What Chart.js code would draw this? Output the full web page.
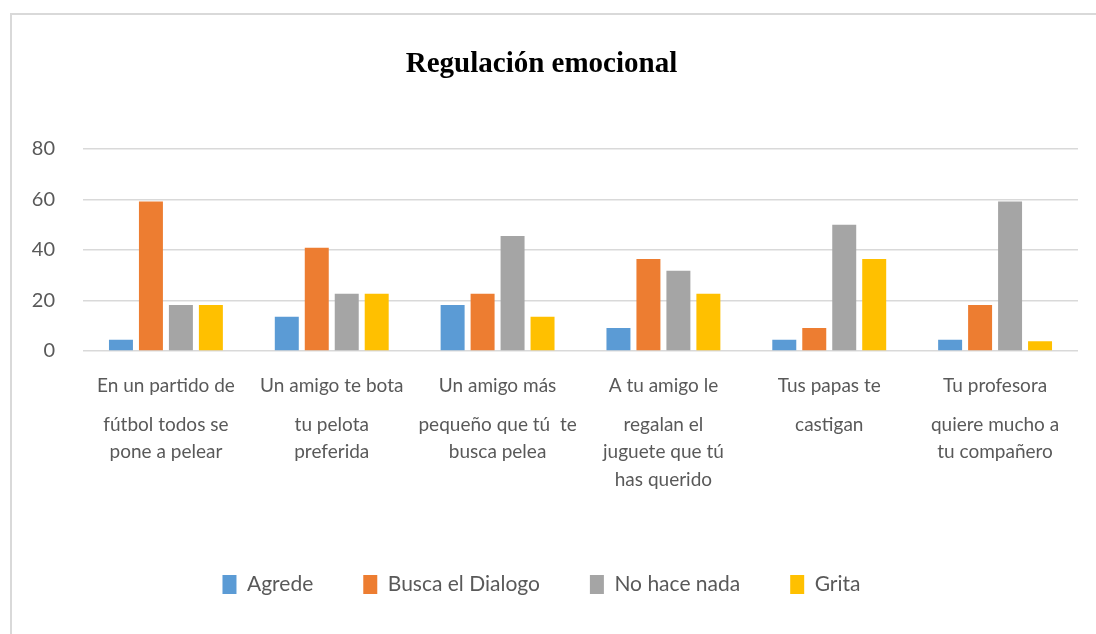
<!DOCTYPE html>
<html>
<head>
<meta charset="utf-8">
<script src="https://cdn.jsdelivr.net/npm/chart.js@4/dist/chart.umd.min.js"></script>
<style>
  html, body { margin: 0; padding: 0; background: #fff; }
  #frame { position: absolute; left: 10px; top: 13px; width: 1200px; height: 800px;
           border-left: 2px solid #d9d9d9; border-top: 2px solid #d9d9d9; }
  #wrap { position: absolute; left: 0; top: 0; width: 1096px; height: 634px; }
</style>
</head>
<body>
<div id="frame"></div>
<div id="wrap"><canvas id="c" width="1096" height="634"></canvas></div>
<script>
// ---- data ----
const titleText = "Regulación emocional";
const labelsRow1 = ["En un partido de", "Un amigo te bota", "Un amigo más", "A tu amigo le", "Tus papas te", "Tu profesora"];
const labelsRow2 = [
  ["fútbol todos se", "pone a pelear"],
  ["tu pelota", "preferida"],
  ["pequeño que tú  te", "busca pelea"],
  ["regalan el", "juguete que tú", "has querido"],
  ["castigan"],
  ["quiere mucho a", "tu compañero"]
];
const seriesNames = ["Agrede", "Busca el Dialogo", "No hace nada", "Grita"];
const agrede       = [4.5, 13.6, 18.2, 9.1, 4.5, 4.5];
const buscaDialogo = [59.1, 40.9, 22.7, 36.4, 9.1, 18.2];
const noHaceNada   = [18.2, 22.7, 45.5, 31.8, 50.0, 59.1];
const grita        = [18.2, 22.7, 13.6, 22.7, 36.4, 3.9];
const yTicks = [0, 20, 40, 60, 80];
const colors = ["#5b9bd5", "#ed7d31", "#a5a5a5", "#ffc000"];

const seriesValues = [agrede, buscaDialogo, noHaceNada, grita];
const textColor = "#595959";
const sans = "Lato, 'Open Sans', sans-serif";

new Chart(document.getElementById("c"), {
  type: "bar",
  data: {
    labels: labelsRow1,
    datasets: seriesNames.map((name, i) => ({
      label: name,
      data: seriesValues[i],
      backgroundColor: colors[i],
      borderWidth: 0,
      categoryPercentage: 0.723,
      barPercentage: 0.8,
      xAxisID: "x",
      yAxisID: "y"
    }))
  },
  options: {
    responsive: false,
    animation: false,
    layout: { padding: { top: 13, left: 5, right: 18, bottom: 29 } },
    plugins: {
      title: {
        display: true,
        text: titleText,
        color: "#000",
        font: { family: "'Liberation Serif', 'Times New Roman', serif", size: 29, weight: "bold" },
        padding: { top: 34, bottom: 67 }
      },
      legend: {
        position: "bottom",
        labels: {
          boxWidth: 14,
          boxHeight: 19,
          padding: 50,
          color: textColor,
          font: { family: sans, size: 21 }
        }
      },
      tooltip: { enabled: false }
    },
    scales: {
      x: {
        type: "category",
        position: "bottom",
        offset: true,
        grid: { display: false, drawTicks: false },
        border: { display: false },
        ticks: {
          padding: 23,
          maxRotation: 0,
          autoSkip: false,
          color: textColor,
          font: { family: sans, size: 19 }
        },
        afterFit: (s) => { s.height = 44; }
      },
      x2: {
        type: "category",
        position: "bottom",
        labels: labelsRow2,
        offset: true,
        grid: { display: false, drawTicks: false },
        border: { display: false },
        ticks: {
          padding: 16,
          maxRotation: 0,
          autoSkip: false,
          color: textColor,
          font: { family: sans, size: 19, lineHeight: 1.45 }
        },
        afterFit: (s) => { s.height = 129; }
      },
      y: {
        min: 0,
        max: 80,
        afterBuildTicks: (s) => { s.ticks = yTicks.map(v => ({ value: v })); },
        grid: { color: "#d9d9d9", lineWidth: 1.5, drawTicks: false },
        border: { display: false },
        ticks: {
          padding: 28,
          color: textColor,
          font: { family: sans, size: 20 }
        },
        afterFit: (s) => { s.width = 78; }
      }
    }
  }
});
</script>
</body>
</html>
